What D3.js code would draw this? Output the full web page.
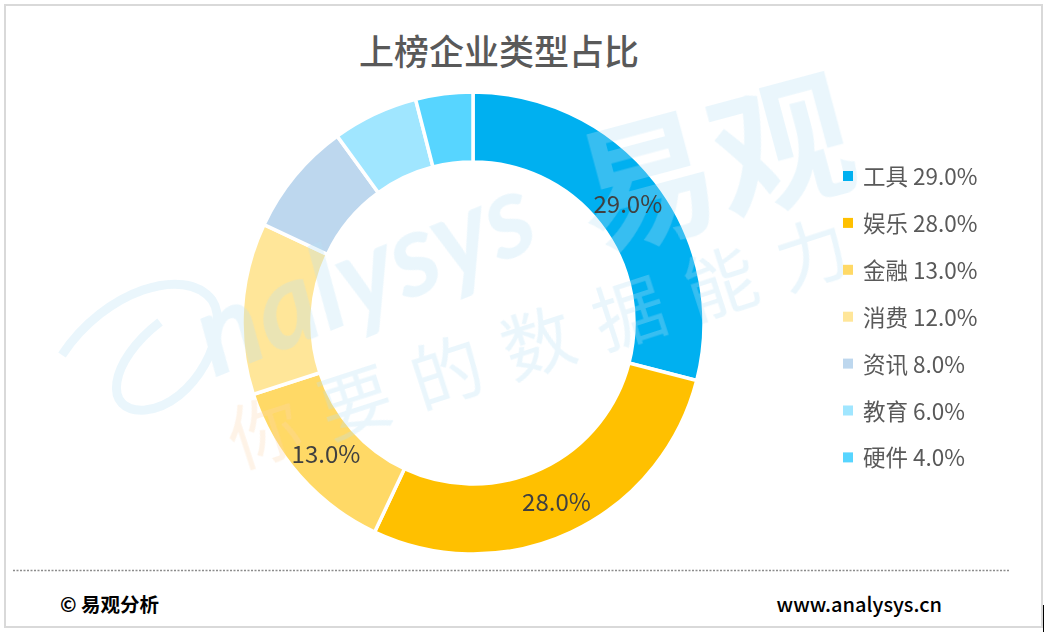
<!DOCTYPE html>
<html>
<head>
<meta charset="utf-8">
<script src="https://cdn.jsdelivr.net/npm/d3@7"></script>
<style>
  body { margin: 0; background: #fff; }
  svg { display: block; font-family: "Noto Sans CJK SC", "Noto Sans", sans-serif; }
</style>
</head>
<body>
<svg id="chart" width="1047" height="632"></svg>
<script>
// data
var categories = ["工具", "娱乐", "金融", "消费", "资讯", "教育", "硬件"];
var shares = [29.0, 28.0, 13.0, 12.0, 8.0, 6.0, 4.0];
var colors = ["#00B0F0", "#FFC000", "#FFD966", "#FFE699", "#BDD7EE", "#A0E6FF", "#57D5FF"];
var labelledMin = 13; // slices this size or bigger get a label inside

var svg = d3.select("#chart");

// frame
svg.append("rect")
    .attr("x", 5).attr("y", 5)
    .attr("width", 1037).attr("height", 622)
    .attr("fill", "white")
    .attr("stroke", "#d9d9d9")
    .attr("stroke-width", 2);
svg.append("line")
    .attr("x1", 1043.5).attr("x2", 1043.5)
    .attr("y1", 605).attr("y2", 632)
    .attr("stroke", "#000").attr("stroke-width", 1);

// title
svg.append("text")
    .attr("x", 499).attr("y", 65)
    .attr("text-anchor", "middle")
    .attr("font-size", 35)
    .attr("font-weight", 500)
    .attr("fill", "#595959")
    .text("上榜企业类型占比");

var rows = categories.map((c, i) => ({ name: c, value: shares[i], color: colors[i] }));

var cx = 473, cy = 323, outerR = 231, innerR = 161;

var pie = d3.pie().value(d => d.value).sort(null);
var arc = d3.arc().innerRadius(innerR).outerRadius(outerR);
var labelArc = d3.arc().innerRadius((innerR + outerR) / 2).outerRadius((innerR + outerR) / 2);

var donut = svg.append("g").attr("transform", `translate(${cx},${cy})`);

donut.selectAll("path.slice")
    .data(pie(rows))
    .enter()
    .append("path")
    .attr("class", "slice")
    .attr("d", arc)
    .attr("fill", d => d.data.color)
    .attr("stroke", "white")
    .attr("stroke-width", 3.5)
    .attr("stroke-linejoin", "miter");

// watermark (faint, over the slices)
var wmFill = "#b9e1f5";
var wm = svg.append("g").attr("pointer-events", "none").attr("opacity", 0.3);
wm.append("text")
    .attr("transform", "translate(214,378) rotate(-22)")
    .attr("font-size", 116)
    .attr("font-style", "italic")
    .attr("font-family", "Lato, sans-serif")
    .attr("font-weight", 700)
    .attr("fill", wmFill)
    .text("nalysys");
wm.append("path")
    .attr("d", "M62,355 C105,290 185,265 212,300 C232,330 195,405 145,410 C102,413 108,362 160,322")
    .attr("fill", "none")
    .attr("stroke", wmFill)
    .attr("stroke-width", 9);
wm.append("text")
    .attr("transform", "translate(592,250) rotate(-15)")
    .attr("font-size", 140)
    .attr("font-weight", 700)
    .attr("fill", wmFill)
    .text("易观");
var slogan = wm.append("text")
    .attr("transform", "translate(238,468) rotate(-18)")
    .attr("font-size", 72)
    .attr("letter-spacing", 24)
    .attr("fill", wmFill);
slogan.append("tspan").attr("fill", "#fcd7b0").text("你");
slogan.append("tspan").text("要的数据能力");

// value labels, above the watermark
var labels = svg.append("g").attr("transform", `translate(${cx},${cy})`);
labels.selectAll("text.lbl")
    .data(pie(rows).filter(d => d.data.value >= labelledMin))
    .enter()
    .append("text")
    .attr("class", "lbl")
    .attr("transform", d => `translate(${labelArc.centroid(d)})`)
    .attr("text-anchor", "middle")
    .attr("dominant-baseline", "central")
    .attr("font-size", 24)
    .attr("fill", "#404040")
    .text(d => d.data.value.toFixed(1) + "%");

// legend
var legend = svg.append("g").attr("transform", "translate(843,175)");
var item = legend.selectAll("g")
    .data(rows)
    .enter()
    .append("g")
    .attr("transform", (d, i) => `translate(0,${i * 46.9})`);
item.append("rect")
    .attr("x", 0).attr("y", -4)
    .attr("width", 10).attr("height", 10)
    .attr("fill", d => d.color);
item.append("text")
    .attr("x", 20)
    .attr("dominant-baseline", "central")
    .attr("font-size", 22.5)
    .attr("fill", "#595959")
    .text(d => `${d.name} ${d.value.toFixed(1)}%`);

// footer
svg.append("line")
    .attr("x1", 13).attr("x2", 1010)
    .attr("y1", 570.5).attr("y2", 570.5)
    .attr("stroke", "#8c8c8c")
    .attr("stroke-width", 1.5)
    .attr("stroke-dasharray", "2,1.5");
svg.append("text")
    .attr("x", 60).attr("y", 612)
    .attr("font-size", 19.5)
    .attr("font-weight", 700)
    .attr("fill", "#000")
    .text("© 易观分析");
svg.append("text")
    .attr("x", 942).attr("y", 612)
    .attr("text-anchor", "end")
    .attr("font-size", 20)
    .attr("font-weight", 500)
    .attr("fill", "#000")
    .text("www.analysys.cn");
</script>
</body>
</html>
